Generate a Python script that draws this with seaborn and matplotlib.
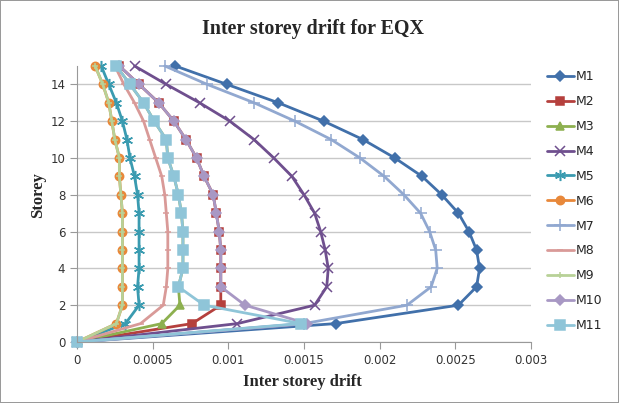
import numpy as np
import pandas as pd
import matplotlib
matplotlib.use("Agg")
import matplotlib.pyplot as plt
import seaborn as sns

# storey levels 0..15
storeys = list(range(16))

# inter storey drift per model (storey 0 -> 15)
m1 = [0, 0.00171, 0.00252, 0.00264, 0.00266, 0.00264, 0.00259, 0.00252, 0.00241, 0.00228, 0.00210, 0.00189, 0.00163, 0.00133, 0.00099, 0.00065]
m2 = [0, 0.00076, 0.00095, 0.00095, 0.00095, 0.00095, 0.00094, 0.00092, 0.00090, 0.00084, 0.00079, 0.00072, 0.00064, 0.00054, 0.00041, 0.00028]
m3 = [0, 0.00056, 0.00068, 0.00067, 0.00070, 0.00070, 0.00070, 0.00069, 0.00067, 0.00064, 0.00060, 0.00059, 0.00051, 0.00044, 0.00035, 0.00026]
m4 = [0, 0.00106, 0.00157, 0.00165, 0.00166, 0.00164, 0.00161, 0.00157, 0.00150, 0.00142, 0.00130, 0.00117, 0.00101, 0.00081, 0.00059, 0.00038]
m5 = [0, 0.00032, 0.00041, 0.00040, 0.00041, 0.00041, 0.00041, 0.00041, 0.00040, 0.00038, 0.00035, 0.00033, 0.00030, 0.00026, 0.00021, 0.00016]
m6 = [0, 0.00026, 0.00030, 0.00030, 0.00030, 0.00030, 0.00030, 0.00030, 0.00029, 0.00028, 0.00028, 0.00025, 0.00023, 0.00021, 0.00017, 0.00012]
m7 = [0, 0.00150, 0.00218, 0.00234, 0.00238, 0.00237, 0.00233, 0.00227, 0.00216, 0.00203, 0.00187, 0.00168, 0.00144, 0.00117, 0.00086, 0.00058]
m8 = [0, 0.00042, 0.00057, 0.00059, 0.00060, 0.00060, 0.00060, 0.00059, 0.00058, 0.00056, 0.00052, 0.00048, 0.00044, 0.00038, 0.00031, 0.00025]
m9 = [0, 0.00026, 0.00030, 0.00030, 0.00030, 0.00030, 0.00030, 0.00030, 0.00029, 0.00028, 0.00028, 0.00025, 0.00023, 0.00021, 0.00017, 0.00012]
m10 = [0, 0.00152, 0.00111, 0.00095, 0.00095, 0.00095, 0.00094, 0.00092, 0.00090, 0.00084, 0.00079, 0.00072, 0.00064, 0.00054, 0.00041, 0.00028]
m11 = [0, 0.00148, 0.00084, 0.00067, 0.00070, 0.00070, 0.00070, 0.00069, 0.00067, 0.00064, 0.00060, 0.00059, 0.00051, 0.00044, 0.00035, 0.00026]

models = ["M1", "M2", "M3", "M4", "M5", "M6", "M7", "M8", "M9", "M10", "M11"]
values = [m1, m2, m3, m4, m5, m6, m7, m8, m9, m10, m11]

colors = ["#4170AA", "#B5403D", "#8DB04F", "#6F4F8E", "#3A9BB0", "#E8883A",
          "#91A8D0", "#D99A98", "#B8D197", "#A898C4", "#8FC5D8"]
markers = ["D", "s", "^", "x", (6, 2, 0), "o", "+", "_", "+", "D", "s"]
msizes = [5, 6, 5.5, 7, 8, 6, 8, 4.5, 5, 5, 7]

sns.set_style("white")
plt.rcParams["font.family"] = ["DejaVu Sans"]

fig = plt.figure(figsize=(6.19, 4.03), dpi=100, linewidth=1.2, edgecolor="#9a9a9a")
ax = fig.add_axes([0.1244, 0.1514, 0.7335, 0.6849])

for name, vals, c, mk, ms in zip(models, values, colors, markers, msizes):
    sns.lineplot(x=vals, y=storeys, sort=False, estimator=None, orient="y", ax=ax,
                 color=c, linewidth=2, marker=mk, markersize=ms, markeredgecolor=c,
                 markeredgewidth=1.1, label=name, legend=False, clip_on=False)

ax.set_xlim(0, 0.003)
ax.set_ylim(0, 15)
ax.set_xticks([0, 0.0005, 0.001, 0.0015, 0.002, 0.0025, 0.003])
ax.set_xticklabels(["0", "0.0005", "0.001", "0.0015", "0.002", "0.0025", "0.003"])
ax.set_yticks(range(0, 15, 2))
ax.tick_params(labelsize=8.5, colors="#333333", length=5, direction="out", color="#999999")
ax.tick_params(axis="x", bottom=True)
ax.tick_params(axis="y", left=True)
ax.yaxis.grid(True, color="#c8c8c8", linewidth=1)
ax.set_axisbelow(True)
for s in ["top", "right"]:
    ax.spines[s].set_visible(False)
for s in ["left", "bottom"]:
    ax.spines[s].set_color("#999999")

ax.set_xlabel("")
ax.set_ylabel("")
fig.text(0.506, 0.928, "Inter storey drift for EQX", ha="center", va="center",
         fontsize=14.4, fontweight="bold", family="Liberation Serif")
fig.text(0.489, 0.052, "Inter storey drift", ha="center", va="center",
         fontsize=12, fontweight="bold", family="Liberation Serif")
fig.text(0.061, 0.515, "Storey", ha="center", va="center", rotation=90,
         fontsize=12, fontweight="bold", family="Liberation Serif")

handles, labels = ax.get_legend_handles_labels()
fig.legend(handles, labels, loc="upper left", bbox_to_anchor=(0.875, 0.838),
           frameon=False, fontsize=9, labelspacing=0.95, handlelength=2.2,
           handletextpad=0.1, borderaxespad=0)

fig.savefig("out.png", dpi=100, edgecolor=fig.get_edgecolor())
